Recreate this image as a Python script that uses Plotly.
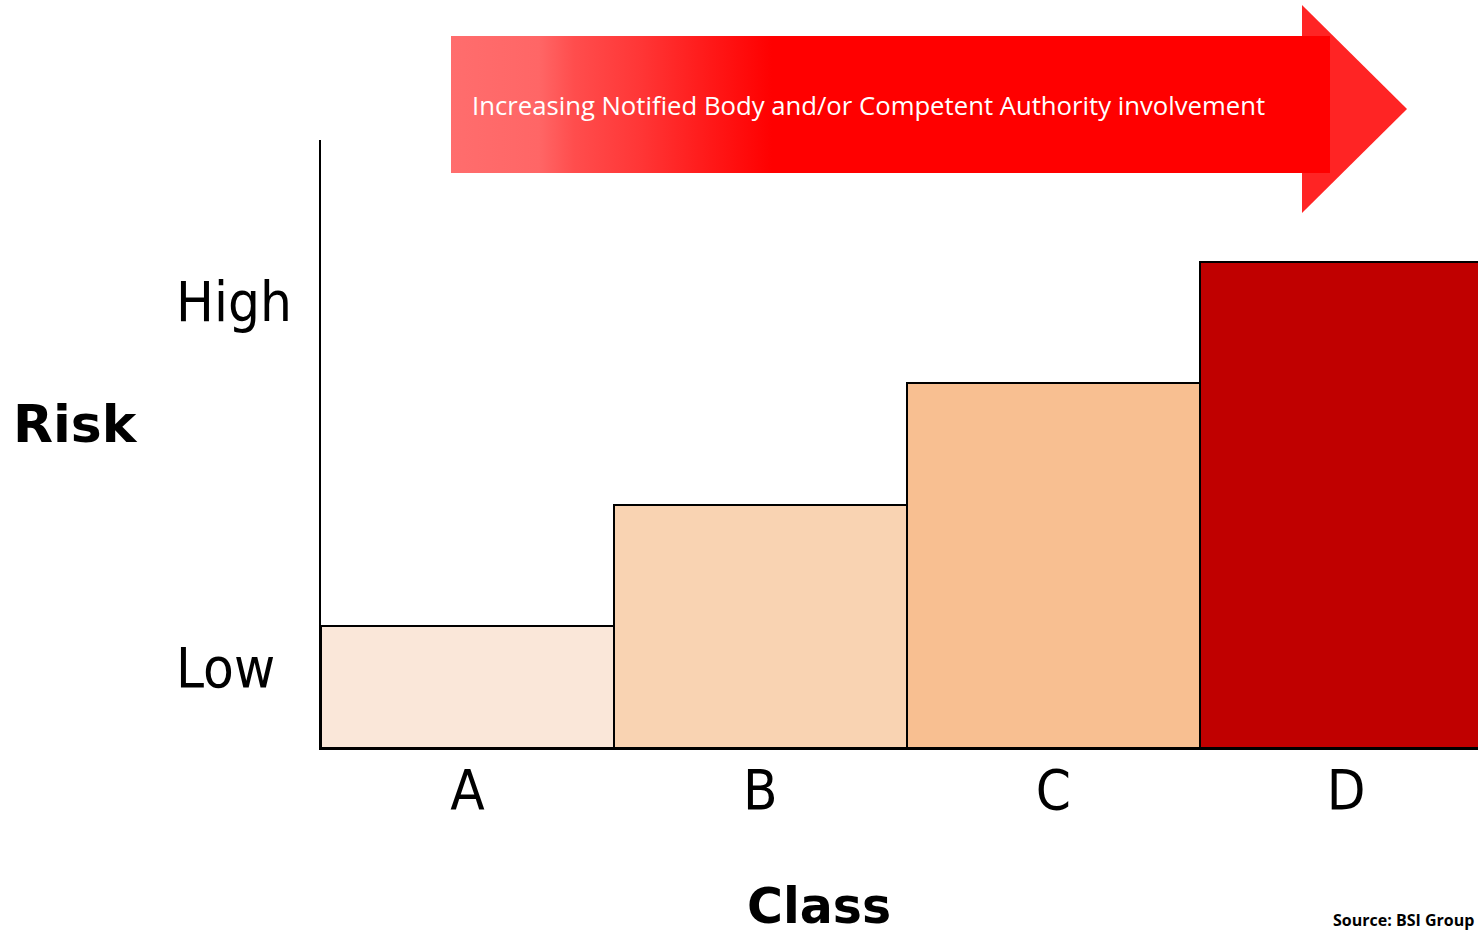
import plotly.graph_objects as go

# ---- data ----
classes = ["A", "B", "C", "D"]
risk_level = [1, 2, 3, 4]
bar_colors = ["#fae7d9", "#f9d3b2", "#f8bf91", "#c00000"]
risk_labels = ["Low", "High"]
risk_label_pos = [0.66, 3.67]
arrow_text = "Increasing Notified Body and/or Competent Authority involvement"
source_text = "Source: BSI Group"

W, H = 1478, 935
fig = go.Figure()

fig.add_trace(go.Bar(
    x=list(range(len(classes))), y=risk_level,
    marker=dict(color=bar_colors, line=dict(color="black", width=2)),
    width=1.0, showlegend=False, hoverinfo="skip",
    xaxis="x", yaxis="y",
))

# decorative arrow on a full-page pixel axis
head_x = [1302, 1407, 1302, 1302]
head_y = [5, 109, 213, 5]
fig.add_trace(go.Scatter(
    x=head_x, y=head_y, fill="toself", mode="lines",
    line=dict(width=0, color="#ff2424"), fillcolor="#ff2424",
    xaxis="x2", yaxis="y2", showlegend=False, hoverinfo="skip",
))
body_x = [451, 1330, 1330, 451, 451]
body_y = [36, 36, 173, 173, 36]
fig.add_trace(go.Scatter(
    x=body_x, y=body_y, fill="toself", mode="lines",
    line=dict(width=0, color="red"),
    fillgradient=dict(type="horizontal", start=451, stop=1330, colorscale=[
        [0.0, "#ff6d6d"], [0.10, "#ff6666"], [0.14, "#ff4d4d"],
        [0.215, "#ff3636"], [0.29, "#ff1a1a"], [0.365, "#ff0000"], [1.0, "#ff0000"]]),
    xaxis="x2", yaxis="y2", showlegend=False, hoverinfo="skip",
))

tick_font = dict(family="DejaVu Sans Condensed, DejaVu Sans", size=56, color="black")

fig.update_layout(
    width=W, height=H,
    margin=dict(l=0, r=0, t=0, b=0),
    paper_bgcolor="white", plot_bgcolor="rgba(0,0,0,0)",
    bargap=0,
    xaxis=dict(domain=[321 / W, 1], range=[-0.5, 3.45],
               tickmode="array", tickvals=list(range(len(classes))), ticktext=classes,
               tickfont=tick_font, ticks="", showgrid=False, zeroline=False,
               showline=True, linecolor="black", linewidth=2, anchor="y",
               ticklabelstandoff=-8),
    yaxis=dict(domain=[(H - 748) / H, (H - 140) / H], range=[0, 5],
               showticklabels=False, ticks="", showgrid=False, zeroline=False,
               showline=True, linecolor="black", linewidth=2, anchor="x"),
    xaxis2=dict(domain=[0, 1], range=[0, W], visible=False, anchor="y2", fixedrange=True),
    yaxis2=dict(domain=[0, 1], range=[H, 0], visible=False, anchor="x2", fixedrange=True),
)

for lbl, pos in zip(risk_labels, risk_label_pos):
    fig.add_annotation(text=lbl, xref="paper", x=174 / W, yref="y", y=pos,
                       xanchor="left", yanchor="middle", showarrow=False, font=tick_font)

fig.add_annotation(text="<b>Risk</b>", xref="paper", x=11 / W, yref="paper", y=1 - 424 / H,
                   xanchor="left", yanchor="middle", showarrow=False,
                   font=dict(family="DejaVu Sans", size=52, color="black"))
fig.add_annotation(text="<b>Class</b>", xref="paper", x=819 / W, yref="paper", y=1 - 906 / H,
                   xanchor="center", yanchor="middle", showarrow=False,
                   font=dict(family="DejaVu Sans", size=49, color="black"))
fig.add_annotation(text=arrow_text, xref="paper", x=470 / W, yref="paper", y=1 - 105 / H,
                   xanchor="left", yanchor="middle", showarrow=False,
                   font=dict(family="Open Sans", size=25.7, color="white"))
fig.add_annotation(text="<b>" + source_text + "</b>", xref="paper", x=1476 / W, yref="paper",
                   y=1 - 920 / H, xanchor="right", yanchor="middle", showarrow=False,
                   font=dict(family="Open Sans", size=16, color="black"))

fig.write_html("out.html")
